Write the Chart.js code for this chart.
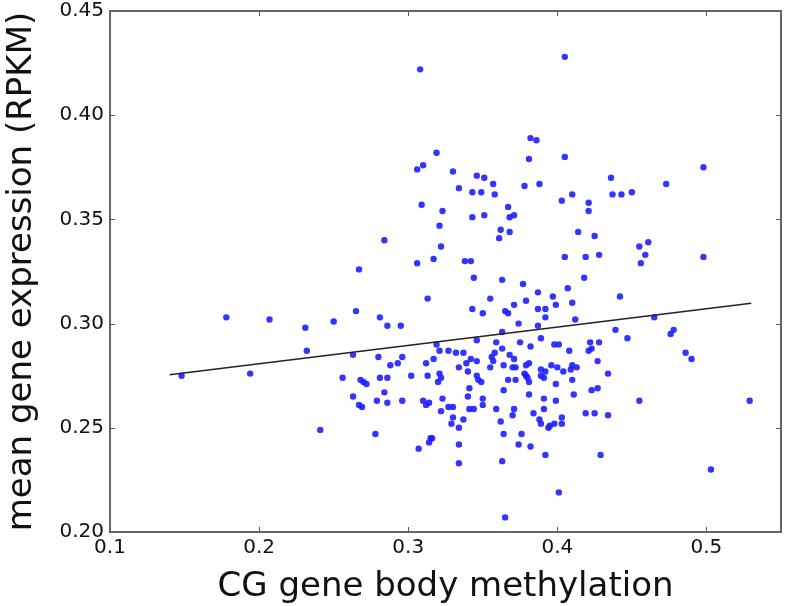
<!DOCTYPE html>
<html>
<head>
<meta charset="utf-8">
<script src="https://cdn.jsdelivr.net/npm/chart.js@4/dist/chart.umd.min.js"></script>
<style>
  html, body { margin: 0; padding: 0; background: #fff; }
  #wrap { width: 786px; height: 606px; }
</style>
</head>
<body>
<div id="wrap"><canvas id="grafico" width="786" height="606"></canvas></div>
<script>
// valores
const methylation = [
  0.308, 0.405, 0.382, 0.386, 0.319, 0.306, 0.310, 0.309, 0.323, 0.321,
  0.284, 0.322, 0.317, 0.306, 0.267, 0.381, 0.405, 0.498, 0.330, 0.346,
  0.351, 0.357, 0.334, 0.343, 0.349, 0.358, 0.378, 0.388, 0.436, 0.473,
  0.437, 0.443, 0.450, 0.403, 0.410, 0.421, 0.421, 0.367, 0.343, 0.351,
  0.368, 0.371, 0.362, 0.361, 0.368, 0.414, 0.425, 0.455, 0.461, 0.459,
  0.456, 0.338, 0.342, 0.405, 0.419, 0.428, 0.498, 0.178, 0.207, 0.231,
  0.250, 0.265, 0.281, 0.286, 0.295, 0.313, 0.232, 0.263, 0.280, 0.296,
  0.288, 0.293, 0.312, 0.317, 0.319, 0.321, 0.148, 0.194, 0.256, 0.268,
  0.270, 0.272, 0.281, 0.286, 0.302, 0.313, 0.321, 0.322, 0.320, 0.284,
  0.263, 0.279, 0.286, 0.296, 0.267, 0.269, 0.310, 0.312, 0.314, 0.344,
  0.363, 0.377, 0.418, 0.407, 0.387, 0.397, 0.355, 0.379, 0.442, 0.371,
  0.399, 0.410, 0.343, 0.350, 0.365, 0.367, 0.387, 0.392, 0.392, 0.412,
  0.374, 0.387, 0.363, 0.346, 0.359, 0.375, 0.389, 0.439, 0.447, 0.465,
  0.476, 0.478, 0.327, 0.332, 0.337, 0.382, 0.398, 0.401, 0.408, 0.422,
  0.428, 0.421, 0.423, 0.363, 0.358, 0.356, 0.357, 0.355, 0.368, 0.371,
  0.342, 0.339, 0.346, 0.334, 0.340, 0.364, 0.370, 0.372, 0.379, 0.381,
  0.378, 0.379, 0.380, 0.381, 0.367, 0.372, 0.389, 0.392, 0.389, 0.391,
  0.396, 0.400, 0.404, 0.409, 0.410, 0.413, 0.410, 0.399, 0.427, 0.434,
  0.486, 0.490, 0.346, 0.347, 0.349, 0.341, 0.364, 0.381, 0.391, 0.399,
  0.411, 0.423, 0.427, 0.455, 0.340, 0.350, 0.529, 0.323, 0.327, 0.330,
  0.322, 0.330, 0.329, 0.334, 0.337, 0.341, 0.344, 0.350, 0.359, 0.371,
  0.370, 0.362, 0.384, 0.391, 0.388, 0.389, 0.394, 0.395, 0.398, 0.403,
  0.403, 0.419, 0.425, 0.434, 0.364, 0.376, 0.315, 0.278, 0.241, 0.307,
  0.314, 0.316, 0.334, 0.334, 0.374, 0.382, 0.363, 0.392, 0.429, 0.401,
  0.365, 0.503
];
const expression = [
  0.422, 0.428, 0.389, 0.388, 0.382, 0.374, 0.376, 0.357, 0.354, 0.347,
  0.340, 0.337, 0.331, 0.329, 0.326, 0.379, 0.380, 0.375, 0.373, 0.371,
  0.370, 0.367, 0.365, 0.363, 0.363, 0.362, 0.366, 0.367, 0.370, 0.367,
  0.362, 0.362, 0.363, 0.359, 0.362, 0.358, 0.354, 0.356, 0.351, 0.352,
  0.351, 0.352, 0.345, 0.341, 0.344, 0.344, 0.342, 0.337, 0.339, 0.333,
  0.329, 0.330, 0.330, 0.332, 0.332, 0.333, 0.332, 0.303, 0.302, 0.298,
  0.301, 0.306, 0.303, 0.299, 0.299, 0.312, 0.287, 0.285, 0.284, 0.284,
  0.280, 0.281, 0.281, 0.283, 0.290, 0.287, 0.275, 0.276, 0.274, 0.273,
  0.272, 0.271, 0.274, 0.274, 0.275, 0.275, 0.276, 0.274, 0.272, 0.267,
  0.265, 0.263, 0.262, 0.263, 0.261, 0.260, 0.263, 0.261, 0.262, 0.322,
  0.321, 0.319, 0.322, 0.317, 0.315, 0.313, 0.312, 0.311, 0.313, 0.309,
  0.309, 0.310, 0.307, 0.305, 0.306, 0.305, 0.307, 0.307, 0.303, 0.302,
  0.300, 0.299, 0.296, 0.292, 0.291, 0.291, 0.293, 0.297, 0.293, 0.303,
  0.295, 0.297, 0.287, 0.286, 0.286, 0.289, 0.290, 0.290, 0.287, 0.291,
  0.291, 0.287, 0.288, 0.288, 0.286, 0.284, 0.282, 0.279, 0.285, 0.283,
  0.283, 0.281, 0.282, 0.279, 0.277, 0.280, 0.279, 0.279, 0.280, 0.281,
  0.276, 0.275, 0.274, 0.272, 0.273, 0.273, 0.278, 0.277, 0.275, 0.274,
  0.280, 0.279, 0.277, 0.278, 0.280, 0.279, 0.273, 0.271, 0.282, 0.276,
  0.286, 0.283, 0.275, 0.273, 0.272, 0.269, 0.268, 0.266, 0.264, 0.263,
  0.266, 0.268, 0.269, 0.263, 0.265, 0.264, 0.263, 0.264, 0.260, 0.260,
  0.258, 0.255, 0.252, 0.250, 0.254, 0.259, 0.259, 0.261, 0.259, 0.259,
  0.256, 0.253, 0.257, 0.259, 0.254, 0.252, 0.250, 0.251, 0.252, 0.255,
  0.252, 0.257, 0.257, 0.256, 0.247, 0.247, 0.245, 0.247, 0.249, 0.240,
  0.243, 0.245, 0.242, 0.233, 0.242, 0.241, 0.234, 0.237, 0.237, 0.219,
  0.207, 0.230
];

// reta de regressão (extremos)
const fitX = [0.14, 0.53];
const fitY = [0.2754, 0.3098];

const xTicks = [0.1, 0.2, 0.3, 0.4, 0.5];
const yTicks = [0.20, 0.25, 0.30, 0.35, 0.40, 0.45];

const fonte = 'DejaVu Sans';

// moldura e marcas de escala para dentro (estilo matplotlib)
const moldura = {
  id: 'moldura',
  afterDatasetsDraw(chart) {
    const ctx = chart.ctx;
    const a = chart.chartArea;
    const sx = chart.scales.x, sy = chart.scales.y;
    ctx.save();
    ctx.strokeStyle = '#555';
    ctx.lineWidth = 1;
    ctx.beginPath();
    xTicks.forEach(v => {
      const px = Math.round(sx.getPixelForValue(v)) + 0.5;
      ctx.moveTo(px, a.bottom); ctx.lineTo(px, a.bottom - 5);
      ctx.moveTo(px, a.top); ctx.lineTo(px, a.top + 5);
    });
    yTicks.forEach(v => {
      const py = Math.round(sy.getPixelForValue(v)) + 0.5;
      ctx.moveTo(a.left, py); ctx.lineTo(a.left + 5, py);
      ctx.moveTo(a.right, py); ctx.lineTo(a.right - 5, py);
    });
    ctx.stroke();
    ctx.lineWidth = 2;
    ctx.strokeStyle = '#666';
    ctx.strokeRect(a.left, a.top, a.right - a.left, a.bottom - a.top);
    ctx.restore();
  }
};

const pontos = methylation.map((m, i) => ({ x: m, y: expression[i] }));
const reta = fitX.map((m, i) => ({ x: m, y: fitY[i] }));

new Chart(document.getElementById('grafico'), {
  type: 'scatter',
  data: {
    datasets: [
      {
        data: pontos,
        backgroundColor: 'rgba(30, 30, 255, 0.9)',
        borderWidth: 0,
        pointRadius: 3.2,
        order: 1
      },
      {
        type: 'line',
        data: reta,
        borderColor: '#222',
        borderWidth: 1.5,
        pointRadius: 0,
        fill: false,
        order: 0
      }
    ]
  },
  options: {
    responsive: false,
    animation: false,
    events: [],
    layout: { padding: { top: 11, right: 5, left: 0, bottom: 0 } },
    plugins: { legend: { display: false }, tooltip: { enabled: false } },
    scales: {
      x: {
        type: 'linear',
        min: 0.1,
        max: 0.55,
        afterBuildTicks: s => { s.ticks = xTicks.map(v => ({ value: v })); },
        afterFit: s => { s.height = 74; s.paddingLeft = 0; s.paddingRight = 0; },
        grid: { display: false, drawTicks: false },
        border: { display: false },
        ticks: {
          autoSkip: false,
          maxRotation: 0,
          padding: 4,
          color: '#111',
          font: { family: fonte, size: 20 },
          callback: v => v.toFixed(1)
        },
        title: {
          display: true,
          text: 'CG gene body methylation',
          color: '#111',
          font: { family: fonte, size: 34 },
          padding: { top: 0, bottom: -2 }
        }
      },
      y: {
        type: 'linear',
        min: 0.2,
        max: 0.45,
        afterBuildTicks: s => { s.ticks = yTicks.map(v => ({ value: v })); },
        afterFit: s => { s.width = 110; s.paddingTop = 0; s.paddingBottom = 0; },
        grid: { display: false, drawTicks: false },
        border: { display: false },
        ticks: {
          autoSkip: false,
          padding: 6,
          color: '#111',
          font: { family: fonte, size: 20 },
          callback: v => v.toFixed(2)
        },
        title: {
          display: true,
          text: 'mean gene expression (RPKM)',
          color: '#111',
          font: { family: fonte, size: 34 },
          padding: { top: 2, bottom: 0 }
        }
      }
    }
  },
  plugins: [moldura]
});
</script>
</body>
</html>
